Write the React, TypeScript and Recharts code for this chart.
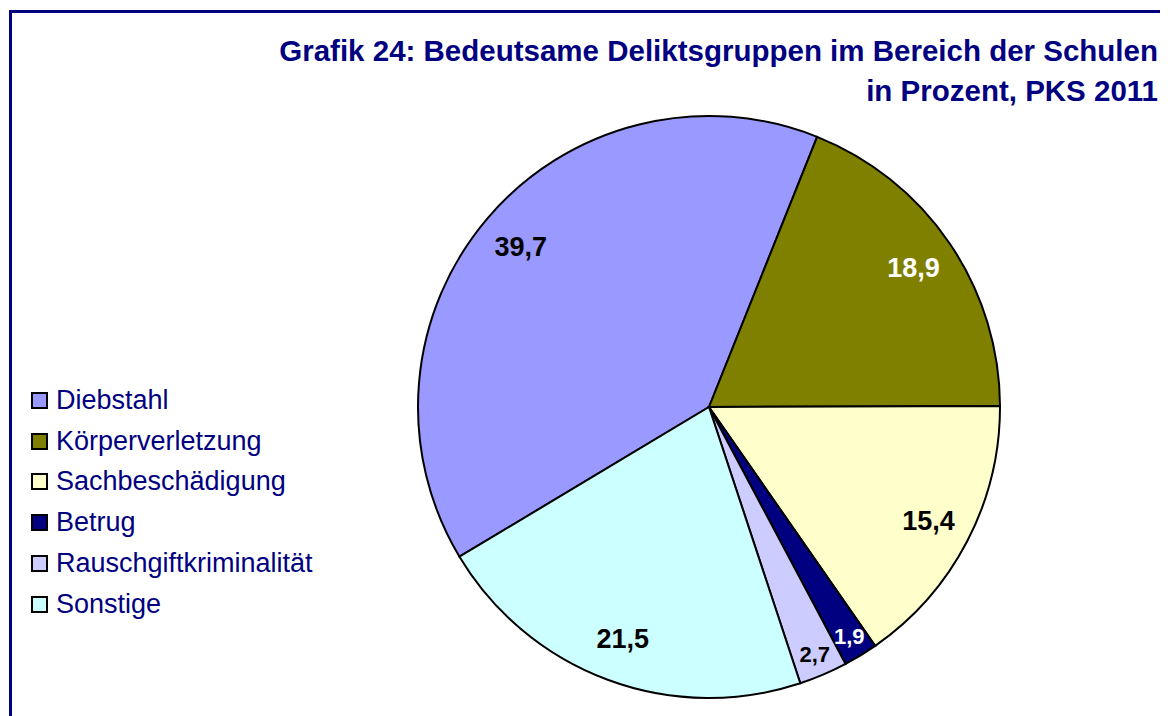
import { PieChart, Pie, Cell, Legend } from 'recharts'

const CATEGORIES = [
  'Diebstahl',
  'Körperverletzung',
  'Sachbeschädigung',
  'Betrug',
  'Rauschgiftkriminalität',
  'Sonstige',
]
const SHARES = [39.7, 18.9, 15.4, 1.9, 2.7, 21.5]
const SLICE_COLORS = ['#9999FF', '#808000', '#FFFFCC', '#000080', '#CCCCFF', '#CCFFFF']
const LABEL_COLORS = ['#000000', '#FFFFFF', '#000000', '#FFFFFF', '#000000', '#000000']
const TITLE_LINES = [
  'Grafik 24: Bedeutsame Deliktsgruppen im Bereich der Schulen',
  'in Prozent, PKS 2011',
]

const NAVY = '#000080'
const FONT = '"Liberation Sans", Arial, sans-serif'
const RADIAN = Math.PI / 180

const data = CATEGORIES.map((name, i) => ({ name, value: SHARES[i] }))

function renderLabel(props: any) {
  const { cx, cy, midAngle, outerRadius, index, value } = props
  const small = value < 5
  const r = outerRadius * (small ? 0.925 : 0.85)
  const x = cx + r * Math.cos(-midAngle * RADIAN)
  const y = cy + r * Math.sin(-midAngle * RADIAN)
  return (
    <text
      x={x}
      y={y}
      fill={LABEL_COLORS[index]}
      textAnchor="middle"
      dominantBaseline="central"
      fontFamily={FONT}
      fontWeight="bold"
      fontSize={small ? 22 : 27}
    >
      {String(value).replace('.', ',')}
    </text>
  )
}

// legend in the original category order (recharts would sort it)
function renderLegend() {
  return (
    <div style={{ fontFamily: FONT }}>
      {CATEGORIES.map((name, i) => (
        <div key={name} style={{ display: 'flex', alignItems: 'center', height: 40.8 }}>
          <span
            style={{
              display: 'inline-block',
              width: 13,
              height: 13,
              background: SLICE_COLORS[i],
              border: '2px solid #000',
              marginRight: 8,
            }}
          />
          <span style={{ color: NAVY, fontSize: 27 }}>{name}</span>
        </div>
      ))}
    </div>
  )
}

export default function App() {
  return (
    <div style={{ position: 'relative', width: 1160, height: 708, overflow: 'hidden', background: '#fff' }}>
      <div
        style={{
          position: 'absolute',
          left: 1,
          top: 2,
          width: 1300,
          height: 900,
          border: `3px solid ${NAVY}`,
        }}
      />
      <div
        style={{
          position: 'absolute',
          right: 10,
          top: 23,
          textAlign: 'right',
          fontFamily: FONT,
          fontWeight: 'bold',
          fontSize: 29.5,
          lineHeight: '40px',
          color: NAVY,
          whiteSpace: 'nowrap',
        }}
      >
        {TITLE_LINES.map((t) => (
          <div key={t}>{t}</div>
        ))}
      </div>
      <PieChart
        width={1160}
        height={708}
        margin={{ top: 0, right: 0, bottom: 0, left: 0 }}
        style={{ position: 'absolute', left: 0, top: 0 }}
      >
        <Pie
          data={data}
          dataKey="value"
          nameKey="name"
          cx={701}
          cy={399}
          outerRadius={291}
          startAngle={210.96}
          endAngle={-149.04}
          stroke="#000"
          strokeWidth={2}
          label={renderLabel}
          labelLine={false}
          isAnimationActive={false}
        >
          {data.map((d, i) => (
            <Cell key={d.name} fill={SLICE_COLORS[i]} />
          ))}
        </Pie>
        <Legend
          layout="vertical"
          content={renderLegend}
          wrapperStyle={{ position: 'absolute', left: 23, top: 372, width: 340 }}
        />
      </PieChart>
    </div>
  )
}
